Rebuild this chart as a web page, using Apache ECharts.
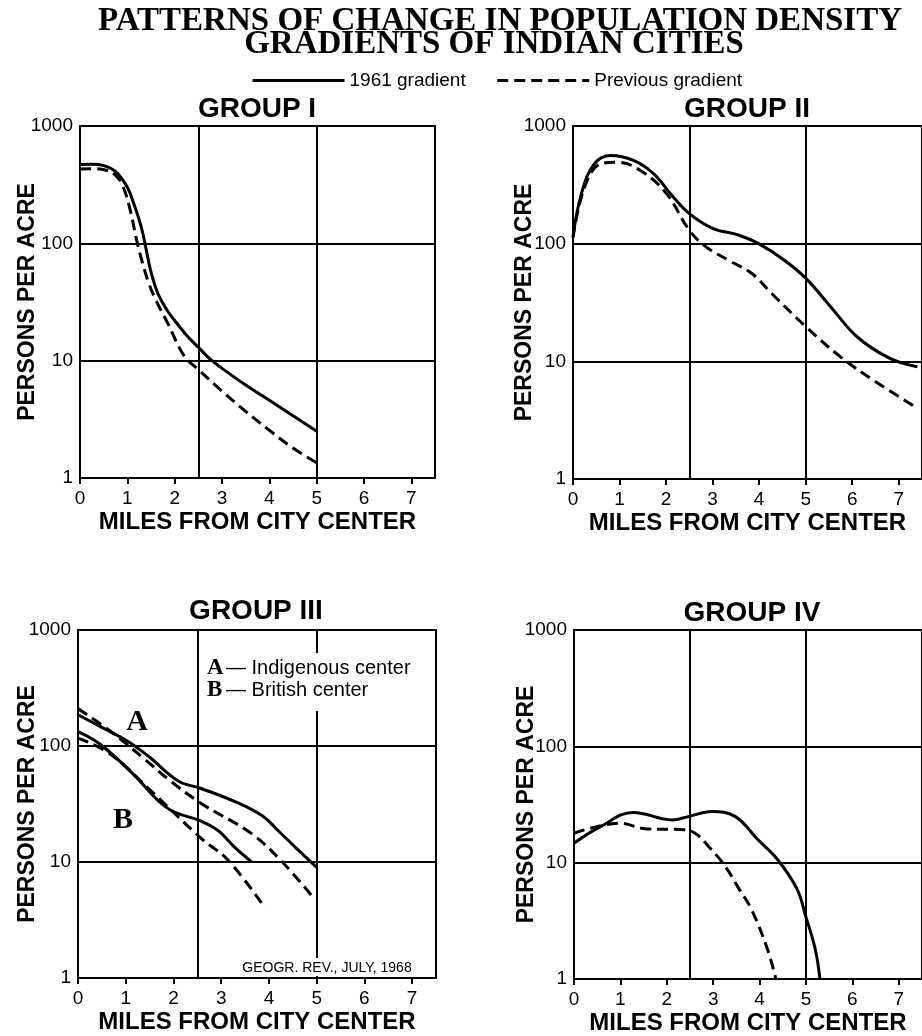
<!DOCTYPE html>
<html>
<head>
<meta charset="utf-8">
<script src="https://cdn.jsdelivr.net/npm/echarts@6/dist/echarts.min.js"></script>
<style>
  html, body { margin: 0; padding: 0; background: #fff; }
  #chart { width: 922px; height: 1036px; }
</style>
</head>
<body>
<div id="chart"></div>
<script>
const SANS = '"Liberation Sans", Arial, sans-serif';
const SERIF = '"Liberation Serif", "Times New Roman", serif';

// [miles from city center, persons per acre]
const groupI1961 = [[0, 470], [0.25, 472], [0.5, 460], [0.75, 410], [1.0, 300], [1.15, 210], [1.3, 135],
  [1.4, 88], [1.5, 57], [1.65, 37], [1.85, 26.5], [2.0, 22], [2.25, 16.5], [2.5, 13], [2.75, 10.3], [3.0, 8.6],
  [3.5, 6.2], [4.0, 4.6], [4.5, 3.4], [5.0, 2.5]];
const groupIPrev = [[0, 430], [0.3, 432], [0.55, 420], [0.75, 380], [0.9, 310], [1.05, 200], [1.2, 105],
  [1.32, 68], [1.45, 46], [1.6, 33], [1.85, 21], [2.2, 11], [2.5, 8.4], [3.0, 5.5], [3.5, 3.7], [4.0, 2.55],
  [4.5, 1.8], [5.0, 1.35]];

const groupII1961 = [[0, 114], [0.18, 265], [0.46, 478], [0.81, 562], [1.3, 510], [1.73, 394], [2.15, 250],
  [2.5, 180], [3.0, 135], [3.57, 118], [3.99, 100], [4.55, 72], [5.01, 50.5], [5.54, 29], [6.11, 16.1],
  [6.81, 10.6], [7.4, 9.0]];
const groupIIPrev = [[0, 112], [0.25, 303], [0.6, 478], [0.95, 492], [1.45, 418], [2.01, 266], [2.5, 130],
  [2.86, 94], [3.35, 72], [3.85, 55.5], [4.27, 37.7], [5.01, 19.6], [5.75, 10.9], [6.46, 6.9], [7.4, 4.0]];

// group III: A = indigenous center, B = British center
const groupIIIA1961 = [[0, 186], [0.47, 147], [1.04, 110], [1.5, 80], [2.1, 50], [2.58, 43], [3.3, 33],
  [3.86, 25], [4.2, 18.5], [4.56, 13.3], [5.0, 9]];
const groupIIIAPrev = [[0, 210], [0.68, 134], [1.38, 78], [1.91, 51], [2.58, 32], [3.64, 17.5], [4.28, 10],
  [4.9, 5.1]];
const groupIIIB1961 = [[0, 133], [0.47, 103], [1.16, 57], [1.88, 29], [2.58, 22.5], [2.94, 18.6], [3.29, 13.3],
  [3.64, 10]];
const groupIIIBPrev = [[0, 117], [0.68, 85], [1.53, 41], [2.58, 16], [3.15, 10.3], [3.92, 4.0]];

const groupIV1961 = [[0, 14.7], [0.57, 20.4], [1.28, 27], [2.12, 23.3], [2.48, 25], [2.97, 27.5], [3.47, 25],
  [3.96, 15.8], [4.39, 10.6], [4.81, 5.9], [4.99, 3.5], [5.2, 1.8], [5.3, 1]];
const groupIVPrev = [[0, 17.9], [1.0, 21.8], [1.56, 19.5], [2.3, 19.3], [2.6, 18], [2.9, 13.8], [3.26, 9.3],
  [3.54, 6.1], [3.82, 4.0], [4.17, 1.8], [4.35, 1]];

const mileTicks = [0, 1, 2, 3, 4, 5, 6, 7];
const groupNames = ['GROUP I', 'GROUP II', 'GROUP III', 'GROUP IV'];

const grids = [
  { left: 80, top: 126, width: 355, height: 352 },
  { left: 573, top: 126, width: 354, height: 353 },
  { left: 78, top: 630, width: 358, height: 348 },
  { left: 574, top: 630, width: 354, height: 350 }
];
const yNameGaps = [41, 37, 39, 36];

const chart = echarts.init(document.getElementById('chart'));

const xAxes = [];
const yAxes = [];
grids.forEach((g, i) => {
  xAxes.push({
    type: 'value', gridIndex: i, min: 0, max: 7.5, position: 'bottom',
    name: 'MILES FROM CITY CENTER', nameLocation: 'middle', nameGap: 32, nameMoveOverlap: false,
    nameTextStyle: { fontFamily: SANS, fontWeight: 'bold', fontSize: 24, color: '#000' },
    axisLine: { show: true, lineStyle: { color: '#000', width: 2 } },
    axisTick: { show: true, customValues: mileTicks, length: 6, lineStyle: { color: '#000', width: 2 } },
    axisLabel: { customValues: mileTicks, margin: 11, fontFamily: SANS, fontSize: 19, color: '#000' },
    splitLine: { show: false }
  });
  // second axis only draws the 2.5-mile grid lines
  xAxes.push({
    type: 'value', gridIndex: i, min: 0, max: 7.5, interval: 2.5, position: 'top',
    axisLine: { show: false }, axisTick: { show: false }, axisLabel: { show: false },
    splitLine: { show: true, lineStyle: { color: '#000', width: 2 } }
  });
  yAxes.push({
    type: 'log', logBase: 10, gridIndex: i, min: 1, max: 1000,
    name: 'PERSONS PER ACRE', nameLocation: 'middle', nameGap: yNameGaps[i], nameMoveOverlap: false,
    nameTextStyle: { fontFamily: SANS, fontWeight: 'bold', fontSize: 23, color: '#000' },
    axisLine: { show: true, lineStyle: { color: '#000', width: 2 } },
    axisTick: { show: false },
    axisLabel: { margin: 7, fontFamily: SANS, fontSize: 19, color: '#000', formatter: v => String(v) },
    splitLine: { show: true, lineStyle: { color: '#000', width: 2 } }
  });
});

function curve(name, data, i, dashed) {
  return {
    name: name, type: 'line', data: data,
    xAxisIndex: i * 2, yAxisIndex: i,
    smooth: 0.4, symbol: 'none', silent: true,
    lineStyle: { color: '#000', width: 3, type: dashed ? [11, 6] : 'solid' },
    itemStyle: { color: '#000' }
  };
}

const series = [
  curve('1961 gradient', groupI1961, 0, false),
  curve('Previous gradient', groupIPrev, 0, true),
  curve('1961 gradient', groupII1961, 1, false),
  curve('Previous gradient', groupIIPrev, 1, true),
  curve('1961 gradient', groupIIIA1961, 2, false),
  curve('Previous gradient', groupIIIAPrev, 2, true),
  curve('1961 gradient', groupIIIB1961, 2, false),
  curve('Previous gradient', groupIIIBPrev, 2, true),
  curve('1961 gradient', groupIV1961, 3, false),
  curve('Previous gradient', groupIVPrev, 3, true)
];

function text(str, x, y, font, align) {
  const a = align || 'center';
  return {
    type: 'text', z: 20,
    style: { text: str, x: x, y: y, font: font, fill: '#000',
      textAlign: a, align: a, textVerticalAlign: 'middle', verticalAlign: 'middle' }
  };
}

const graphics = [
  text('PATTERNS OF CHANGE IN POPULATION DENSITY', 500, 21, 'bold 33px ' + SERIF),
  text('GRADIENTS OF INDIAN CITIES', 494, 44, 'bold 33px ' + SERIF),
  text(groupNames[0], 257, 109, 'bold 28px ' + SANS),
  text(groupNames[1], 747, 109, 'bold 28px ' + SANS),
  text(groupNames[2], 256, 611, 'bold 28px ' + SANS),
  text(groupNames[3], 752, 613, 'bold 28px ' + SANS),
  // group III key, on white so the 5-mile line breaks behind it
  { type: 'rect', z: 15, shape: { x: 203, y: 653, width: 228, height: 58 }, style: { fill: '#fff' } },
  text('A', 207, 668, 'bold 23px ' + SERIF, 'left'),
  text('— Indigenous center', 226, 668, '20px ' + SANS, 'left'),
  text('B', 207, 690, 'bold 23px ' + SERIF, 'left'),
  text('— British center', 226, 690, '20px ' + SANS, 'left'),
  text('A', 137, 722, 'bold 30px ' + SERIF),
  text('B', 123, 820, 'bold 30px ' + SERIF),
  { type: 'rect', z: 15, shape: { x: 230, y: 958, width: 194, height: 18 }, style: { fill: '#fff' } },
  text('GEOGR. REV., JULY, 1968', 327, 968, '14px ' + SANS)
];

const option = {
  animation: false,
  backgroundColor: '#fff',
  color: ['#000'],
  legend: {
    left: 246, top: 66, itemWidth: 92, itemHeight: 14, itemGap: 30,
    selectedMode: false,
    itemStyle: { opacity: 0, borderWidth: 0 },
    lineStyle: { width: 3 },
    textStyle: { fontFamily: SANS, fontSize: 19, color: '#000' },
    data: ['1961 gradient', 'Previous gradient']
  },
  grid: grids.map(g => Object.assign({ show: true, borderColor: '#000', borderWidth: 2,
    backgroundColor: 'transparent' }, g)),
  xAxis: xAxes,
  yAxis: yAxes,
  series: series,
  graphic: graphics
};

chart.setOption(option);
</script>
</body>
</html>
